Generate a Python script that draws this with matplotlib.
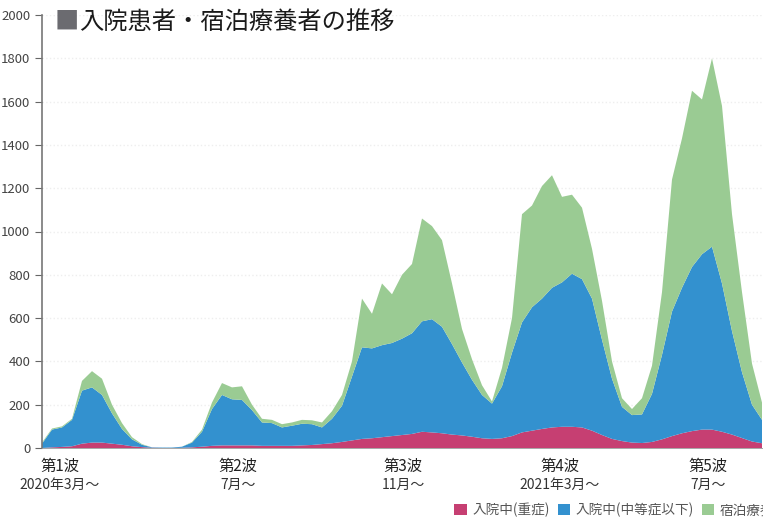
import matplotlib.pyplot as plt
import numpy as np

plt.rcParams['font.family'] = ['Noto Sans CJK JP', 'DejaVu Sans']

# 約1週間ごとの読み取り値（人）
severe = [0, 3, 5, 8, 20, 25, 25, 20, 15, 8, 4, 1, 0, 0, 1, 3, 6, 10, 12, 12,
          12, 12, 10, 10, 10, 10, 12, 14, 18, 22, 28, 35, 42, 45, 50, 55, 60, 65, 75, 72,
          68, 62, 58, 52, 45, 42, 45, 55, 72, 80, 88, 95, 98, 98, 95, 80, 60, 42, 32, 25,
          23, 28, 40, 55, 68, 78, 85, 85, 75, 62, 46, 30, 22]
moderate = [20, 82, 90, 122, 245, 255, 220, 140, 73, 32, 11, 2, 2, 2, 5, 22, 69, 170, 233, 213,
            210, 163, 108, 105, 85, 93, 100, 96, 77, 113, 167, 295, 423, 415, 425, 430, 445, 465, 510, 523,
            492, 418, 337, 263, 200, 163, 240, 385, 508, 570, 602, 645, 667, 707, 685, 610, 440, 278, 158, 127,
            132, 222, 390, 575, 672, 758, 810, 845, 685, 478, 304, 170, 108]
hotel = [5, 5, 5, 5, 45, 75, 75, 40, 27, 10, 3, 0, 0, 0, 0, 3, 10, 30, 55, 55,
         63, 25, 17, 15, 15, 15, 18, 18, 23, 35, 50, 70, 225, 160, 285, 225, 295, 320, 475, 430,
         400, 280, 155, 95, 45, 10, 85, 160, 500, 470, 520, 520, 395, 365, 330, 230, 180, 80, 40, 28,
         75, 130, 290, 610, 690, 814, 715, 870, 820, 540, 370, 190, 80]

wave_names = ['第1波', '第2波', '第3波', '第4波', '第5波']
wave_dates = ['2020年3月～', '7月～', '11月～', '2021年3月～', '7月～']
wave_pos = [1.8, 19.6, 36.1, 51.8, 66.6]

series_names = ['入院中(重症)', '入院中(中等症以下)', '宿泊療養者']
colors = ['#c63f72', '#3391cf', '#9acb93']

weeks = np.arange(len(severe))

fig = plt.figure(figsize=(7.63, 5.18), dpi=100)
ax = fig.add_axes([42 / 763, 70 / 518, 721 / 763, 433 / 518])
polys = ax.stackplot(weeks, severe, moderate, hotel, colors=colors, linewidth=0)
ax.set_xlim(0, 72.1)
ax.set_ylim(0, 2000)
ax.set_yticks(range(0, 2001, 200))
ax.set_xticks([])
ax.tick_params(axis='y', labelsize=9.5, labelcolor='#444444', color='#666666', length=5, width=0.8)
ax.grid(axis='y', color='#eeeeee', linestyle=':', linewidth=1)
ax.set_axisbelow(True)
for s in ['top', 'right']:
    ax.spines[s].set_visible(False)
ax.spines['left'].set_color('#777777')
ax.spines['left'].set_linewidth(1.2)
ax.spines['bottom'].set_color('#999999')
ax.spines['bottom'].set_linewidth(0.6)

tr = ax.get_xaxis_transform()
for pos, name, date in zip(wave_pos, wave_names, wave_dates):
    ax.text(pos, -0.042, name, transform=tr, ha='center', va='center', fontsize=11, color='#222222')
    ax.text(pos, -0.085, date, transform=tr, ha='center', va='center', fontsize=10, color='#333333')

fig.text(55 / 763, 1 - 22 / 518, '■', color='#6b6b70', fontsize=17.5, va='center', ha='left')
fig.text(79 / 763, 1 - 22 / 518, '入院患者・宿泊療養者の推移', color='#1a1a1a', fontsize=17.5,
         va='center', ha='left')

leg = fig.legend(polys, series_names, loc='center left', bbox_to_anchor=(449 / 763, 1 - 510 / 518),
                 ncol=3, frameon=False, fontsize=9.8, handlelength=0.9, handleheight=0.9,
                 handletextpad=0.4, columnspacing=0.6, borderaxespad=0)
for t in leg.get_texts():
    t.set_color('#555555')

fig.savefig('out.png', dpi=100)
